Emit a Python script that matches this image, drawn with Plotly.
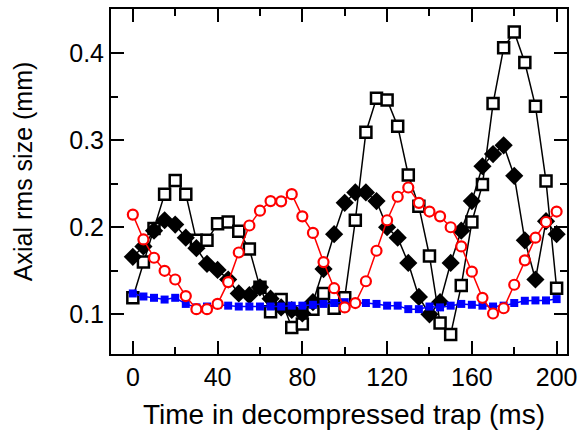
import plotly.graph_objects as go

t = [i * 5 for i in range(41)]

blue_sq = [0.124, 0.1205, 0.119, 0.117, 0.119, 0.112, 0.108, 0.109, 0.111, 0.110,
           0.109, 0.109, 0.109, 0.109, 0.109, 0.110, 0.110, 0.111, 0.112, 0.113,
           0.114, 0.113, 0.113, 0.112, 0.110, 0.110, 0.106, 0.106, 0.109, 0.108,
           0.110, 0.112, 0.111, 0.110, 0.109, 0.110, 0.113, 0.1156, 0.116, 0.116,
           0.1175]

red_circ = [0.2145, 0.186, 0.165, 0.150, 0.140, 0.121, 0.106, 0.106, 0.112, 0.137,
            0.171, 0.202, 0.219, 0.230, 0.2297, 0.238, 0.2125, 0.1935, 0.160, 0.130,
            0.108, 0.113, 0.138, 0.173, 0.208, 0.235, 0.2456, 0.228, 0.218, 0.2125,
            0.200, 0.178, 0.149, 0.119, 0.101, 0.107, 0.134, 0.162, 0.188, 0.206,
            0.218]

black_dia = [0.166, 0.178, 0.196, 0.208, 0.203, 0.188, 0.176, 0.158, 0.151, 0.140,
             0.124, 0.122, 0.131, 0.118, 0.108, 0.105, 0.101, 0.114, 0.152, 0.192,
             0.228, 0.240, 0.240, 0.230, 0.200, 0.188, 0.159, 0.120, 0.100, 0.114,
             0.159, 0.196, 0.230, 0.270, 0.284, 0.294, 0.259, 0.185, 0.140, 0.207,
             0.192]

open_sq = [0.119, 0.160, 0.1985, 0.238, 0.2536, 0.238, 0.185, 0.185, 0.204, 0.206,
           0.1955, 0.175, 0.131, 0.103, 0.117, 0.085, 0.089, 0.106, 0.124, 0.107,
           0.119, 0.208, 0.309, 0.348, 0.346, 0.316, 0.260, 0.224, 0.167, 0.090,
           0.077, 0.133, 0.206, 0.249, 0.342, 0.406, 0.424, 0.389, 0.339, 0.253,
           0.130]

x_ticks = [0, 40, 80, 120, 160, 200]
y_ticks = [0.1, 0.2, 0.3, 0.4]
x_title = "Time in decompressed trap (ms)"
y_title = "Axial rms size (mm)"

fig = go.Figure()
fig.add_trace(go.Scatter(
    x=t, y=open_sq, mode="lines+markers",
    line=dict(color="black", width=1.5),
    marker=dict(symbol="square", size=11, color="white",
                line=dict(color="black", width=2.5)),
))
fig.add_trace(go.Scatter(
    x=t, y=black_dia, mode="lines+markers",
    line=dict(color="black", width=1.5),
    marker=dict(symbol="diamond", size=14, color="black",
                line=dict(color="black", width=0)),
))
fig.add_trace(go.Scatter(
    x=t, y=blue_sq, mode="lines+markers",
    line=dict(color="blue", width=1.5),
    marker=dict(symbol="square", size=8, color="blue",
                line=dict(width=0)),
))
fig.add_trace(go.Scatter(
    x=t, y=red_circ, mode="lines+markers",
    line=dict(color="red", width=1.5),
    marker=dict(symbol="circle", size=10, color="white",
                line=dict(color="red", width=2.2)),
))

fam = "Arial, Liberation Sans, sans-serif"
tick_font = dict(family=fam, size=25, color="black")

fig.update_layout(
    width=584, height=434,
    margin=dict(l=111, r=12, t=7, b=80),
    paper_bgcolor="white", plot_bgcolor="white",
    showlegend=False,
    font=dict(family=fam, size=25, color="black"),
    xaxis=dict(
        range=[-10.3, 204.9],
        tickvals=x_ticks, ticktext=[str(v) for v in x_ticks],
        ticks="inside", ticklen=13, tickwidth=1.5, tickcolor="black",
        minor=dict(dtick=20, tick0=0, ticks="inside", ticklen=7, tickwidth=1.5, tickcolor="black"),
        showline=True, linecolor="black", linewidth=2, mirror="allticks",
        showgrid=False, zeroline=False,
        tickfont=tick_font,
    ),
    yaxis=dict(
        range=[0.0545, 0.4505],
        tickvals=y_ticks, ticktext=[str(v) for v in y_ticks],
        ticks="inside", ticklen=13, tickwidth=1.5, tickcolor="black",
        minor=dict(dtick=0.05, tick0=0.05, ticks="inside", ticklen=7, tickwidth=1.5, tickcolor="black"),
        showline=True, linecolor="black", linewidth=2, mirror="allticks",
        showgrid=False, zeroline=False,
        tickfont=tick_font,
    ),
    annotations=[
        dict(text=x_title, xref="paper", yref="paper", x=0.511, y=-0.176,
             xanchor="center", yanchor="middle", showarrow=False,
             font=dict(family=fam, size=28, color="black")),
        dict(text=y_title, xref="paper", yref="paper", x=-0.193, y=0.53,
             xanchor="center", yanchor="middle", showarrow=False, textangle=-90,
             font=dict(family=fam, size=25, color="black")),
    ],
)

fig.write_html("out.html")
